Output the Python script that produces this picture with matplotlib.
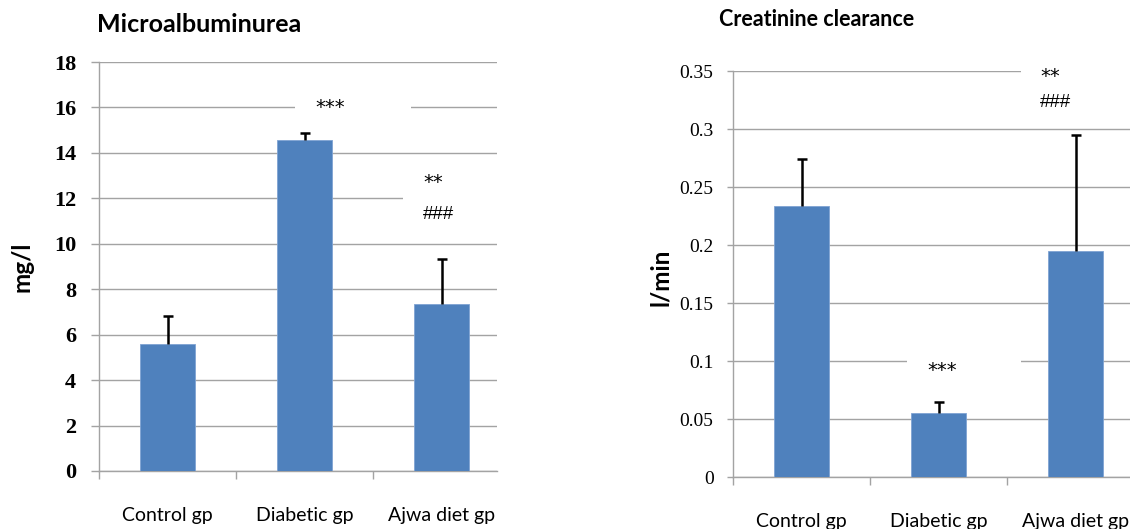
import matplotlib
matplotlib.use("Agg")
import matplotlib.pyplot as plt
from matplotlib.patches import Rectangle

categories = ["Control gp", "Diabetic gp", "Ajwa diet gp"]

micro_values = [5.58, 14.55, 7.35]
micro_err = [1.24, 0.33, 1.97]
micro_ticks = [0, 2, 4, 6, 8, 10, 12, 14, 16, 18]

creat_values = [0.234, 0.055, 0.195]
creat_err = [0.040, 0.010, 0.100]
creat_ticks = [0, 0.05, 0.1, 0.15, 0.2, 0.25, 0.3, 0.35]
creat_ticklabels = ["0", "0.05", "0.1", "0.15", "0.2", "0.25", "0.3", "0.35"]

BAR = "#4F81BD"
GRID = "#a3a3a3"

fig = plt.figure(figsize=(11.3, 5.29), dpi=100)
W, H = 1130, 529

def px_axes(l, r, t, b):
    return fig.add_axes([l / W, 1 - b / H, (r - l) / W, (b - t) / H])

def style(ax, ticklen, pad):
    for s in ["top", "right"]:
        ax.spines[s].set_visible(False)
    for s in ["left", "bottom"]:
        ax.spines[s].set_color(GRID)
        ax.spines[s].set_linewidth(1.0)
        ax.spines[s].set_zorder(1)
    ax.yaxis.grid(True, color=GRID, linewidth=1.0, zorder=0)
    ax.set_axisbelow(True)
    ax.set_xticks(range(len(categories)))
    ax.set_xticklabels(categories, fontfamily="Lato", fontsize=14)
    ax.tick_params(axis="x", which="major", length=0, pad=26)
    ax.set_xticks([-0.5, 0.5, 1.5], minor=True)
    ax.tick_params(axis="x", which="minor", length=5.5, color=GRID, width=1.0)
    ax.tick_params(axis="y", length=ticklen, color=GRID, width=1.0, pad=pad)

def bars(ax, vals, errs):
    ax.bar(range(len(vals)), vals, width=0.40, color=BAR, edgecolor="#7fa3d3",
           linewidth=0.6, zorder=2)
    eb = ax.errorbar(range(len(vals)), vals, yerr=[[0] * len(vals), errs], fmt="none",
                     ecolor="black", elinewidth=1.8, capsize=3.5, capthick=1.8, zorder=3)
    eb[1][0].set_visible(False)

def annot(ax, x, y, s, ha):
    fam = "DejaVu Sans" if "*" in s else "Liberation Sans"
    size = 14 if "*" in s else 13.5
    ax.text(x, y, s, ha=ha, va="center", fontsize=size, fontfamily=fam, zorder=4,
            clip_on=False)

# Left panel
ax1 = px_axes(99, 497, 62, 471)
style(ax1, 5.5, 11)
ax1.set_ylim(0, 18)
ax1.set_yticks(micro_ticks)
ax1.set_yticklabels([str(t) for t in micro_ticks], fontfamily="Liberation Serif",
                    fontweight="bold", fontsize=16)
bars(ax1, micro_values, micro_err)
ax1.set_xlim(-0.5, -0.5 + (497 - 99) / 137)
ax1.add_patch(Rectangle((0.93, 15.2), 0.85, 1.6, facecolor="white", edgecolor="none", zorder=1.5))
ax1.add_patch(Rectangle((1.72, 10.6), 1.0, 2.8, facecolor="white", edgecolor="none", zorder=1.5))
annot(ax1, 1.186, 15.98, "***", "center")
annot(ax1, 1.865, 12.68, "**", "left")
annot(ax1, 1.865, 11.27, "###", "left")

# Right panel
ax2 = px_axes(733, 1130, 71, 477)
style(ax2, 4.5, 9.5)
ax2.set_ylim(0, 0.35)
ax2.set_yticks(creat_ticks)
ax2.set_yticklabels(creat_ticklabels, fontfamily="Liberation Serif", fontsize=14)
bars(ax2, creat_values, creat_err)
ax2.set_xlim(-0.5, -0.5 + (1130 - 733) / 137)
ax2.add_patch(Rectangle((0.77, 0.08), 0.83, 0.03, facecolor="white", edgecolor="none", zorder=1.5))
ax2.add_patch(Rectangle((1.60, 0.31), 1.0, 0.05, facecolor="white", edgecolor="none", zorder=1.5))
annot(ax2, 1.025, 0.0914, "***", "center")
annot(ax2, 1.741, 0.345, "**", "left")
annot(ax2, 1.741, 0.323, "###", "left")

# Titles and y labels
fig.text(97 / W, 1 - 25 / H, "Microalbuminurea", fontfamily="Lato", fontweight="bold",
         fontsize=18, ha="left", va="center")
fig.text(719 / W, 1 - 20 / H, "Creatinine clearance", fontfamily="Lato",
         fontweight="bold", fontsize=15.5, ha="left", va="center")
fig.text(22 / W, 1 - 267 / H, "mg/l", fontfamily="Lato", fontweight="bold",
         fontsize=17.5, rotation=90, ha="center", va="center")
fig.text(661 / W, 1 - 277 / H, "l/min", fontfamily="Lato", fontweight="bold",
         fontsize=17.5, rotation=90, ha="center", va="center")

fig.savefig("out.png", dpi=100, facecolor="white")
